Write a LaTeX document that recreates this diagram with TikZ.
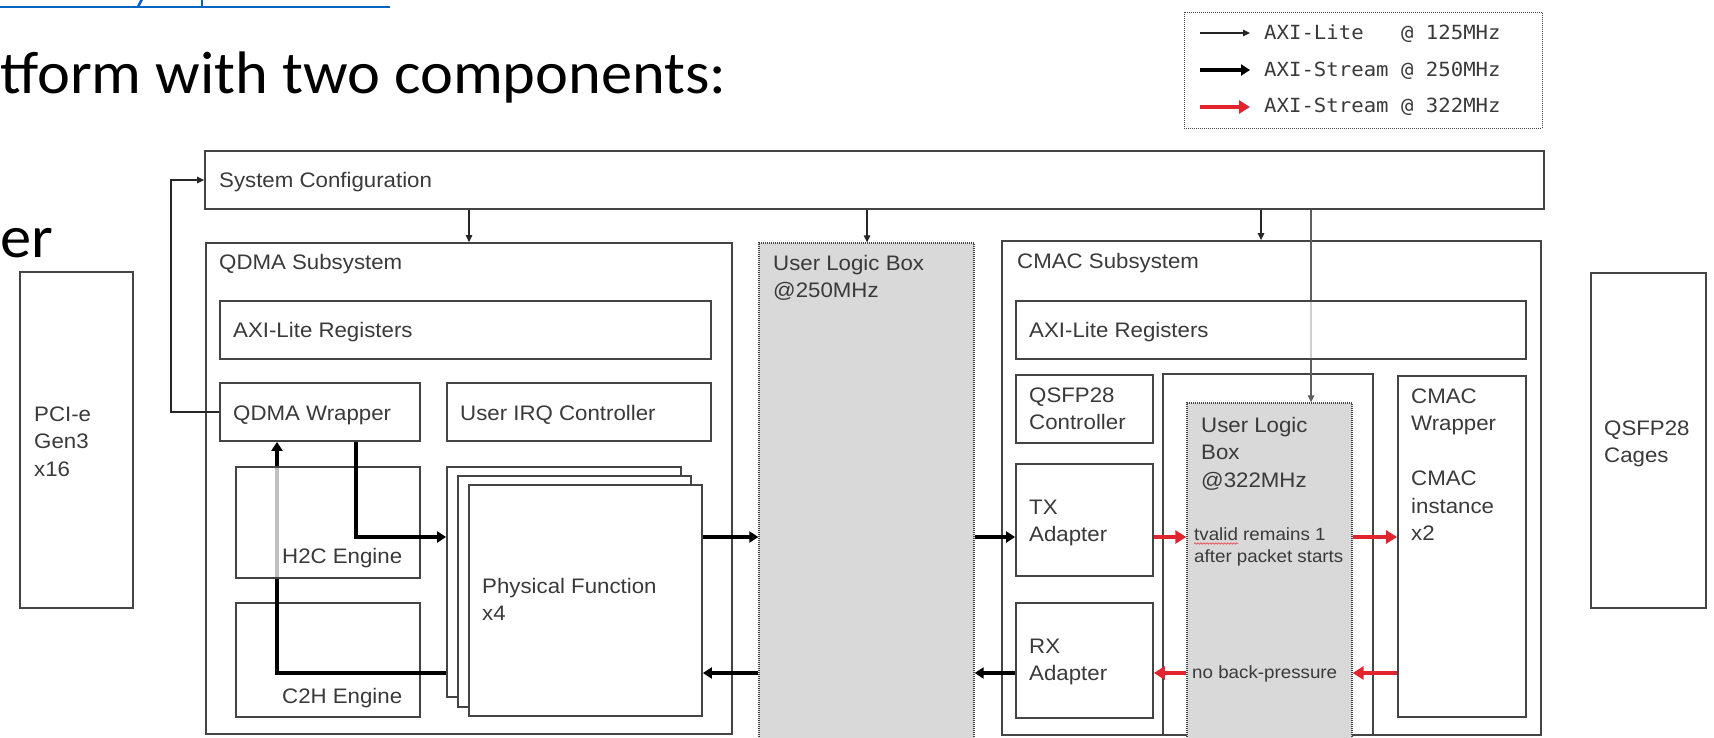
\documentclass[tikz,border=0pt]{standalone}
\usepackage{fontspec}
\setmainfont{Liberation Sans}
\newfontfamily\dgfont[FakeStretch=1.06]{Liberation Sans}
\newfontfamily\slidefont[FakeStretch=1.04]{Carlito}
\newfontfamily\legfont[FakeStretch=1.06]{DejaVu Sans Mono}
\usetikzlibrary{arrows.meta,fit,decorations.pathmorphing}

\definecolor{edge}{RGB}{68,68,68}
\definecolor{ink}{RGB}{58,58,58}
\definecolor{ulbfill}{RGB}{217,217,217}
\definecolor{axired}{RGB}{226,36,46}
\definecolor{linkblue}{RGB}{5,99,193}
\definecolor{tapgray}{RGB}{95,95,95}

% block drawn to fit two corner points
\newcommand\blk[3][box]{\node[#1, fit={#3}] (#2) {};}
% left-aligned label, anchored at the baseline of its first line
\newcommand\lbl[4][txt]{\node[#1] (#2) at (#3) {\begin{tabular}[t]{@{}l@{}}#4\end{tabular}};}

\begin{document}
\begin{tikzpicture}[x=1pt,y=-1pt,
  box/.style={draw=edge, line width=1.8pt, fill=white, inner sep=0pt},
  ulbox/.style={draw=edge, line width=1.3pt, dash pattern=on 1pt off 1pt, fill=ulbfill, inner sep=0pt},
  legbox/.style={draw=edge, line width=1pt, dash pattern=on 1pt off 1pt, inner sep=0pt},
  txt/.style={font=\dgfont\fontsize{21}{27.5}\selectfont, text=ink, inner sep=0pt, anchor=base west},
  note/.style={font=\dgfont\fontsize{17.7}{22}\selectfont, text=ink, inner sep=0pt, anchor=base west},
  legtxt/.style={font=\legfont\fontsize{19.5}{24}\selectfont, text=ink, inner sep=0pt, anchor=base west},
  slide/.style={font=\slidefont\fontsize{60}{72}\selectfont, text=black, inner sep=0pt, anchor=base west},
  lite/.style={draw=black!85, line width=1.3pt, -{Triangle[length=7pt,width=6.5pt]}},
  stream/.style={draw=black, line width=4.5pt, -{Triangle[length=9pt,width=11pt]}},
  fast/.style={draw=axired, line width=4.5pt, -{Triangle[length=11pt,width=13pt]}},
]
\useasboundingbox (0,0) rectangle (1714,737);
\fill[white] (0,0) rectangle (1714,737);
\clip (0,0) rectangle (1714,737);

% ---- slide text around the figure ----
\draw[linkblue, line width=2.6pt] (0,7) -- (390,7);
\draw[linkblue, line width=2.6pt] (138,7) -- (142,-1);
\draw[linkblue, line width=2.6pt] (202,7) -- (202,-1);
\node[slide] (title) at (0,93) {tform with two components:};
\node[slide] (frag) at (0,257) {er};

% ---- legend ----
\blk[legbox]{legend}{(1184,12) (1542,128)}
\coordinate (la1) at (1200,33);  \coordinate (lb1) at (1250,33);
\coordinate (la2) at (1200,70);  \coordinate (lb2) at (1250,70);
\coordinate (la3) at (1200,107); \coordinate (lb3) at (1250,107);
\draw[lite] (la1) -- (lb1);
\draw[stream] (la2) -- (lb2);
\draw[fast] (la3) -- (lb3);
\node[legtxt] (lg1) at (1264,39.5) {AXI-Lite\hphantom{xx} @ 125MHz};
\node[legtxt] (lg2) at (1264,76) {AXI-Stream @ 250MHz};
\node[legtxt] (lg3) at (1264,112.5) {AXI-Stream @ 322MHz};

% ---- outer blocks ----
\blk{sys}{(205,151) (1544,209)}
\blk{pcie}{(20,272) (133,608)}
\blk{cages}{(1591,273) (1706,608)}

% ---- QDMA subsystem ----
\blk{qdma}{(206,243) (732,734)}
\blk{qreg}{(220,301) (711,359)}
\blk{qwrap}{(220,383) (420,441)}
\blk{irq}{(447,383) (711,441)}
\blk{c2h}{(236,603) (420,717)}
\blk{pf3}{(447,467) (681,697)}
\blk{pf2}{(458,476) (691,707)}
\blk{pf1}{(469,485) (702,716)}

% ---- user logic at 250 MHz ----
\blk[ulbox]{ulb}{(759,243) (974,748)}

% ---- CMAC subsystem ----
\blk{cmac}{(1002,241) (1541,735)}
\blk{inner}{(1163,374) (1373,735)}
\blk[ulbox]{ulb2}{(1187,403) (1352,748)}
\blk{qsfpc}{(1016,375) (1153,443)}
\blk{tx}{(1016,464) (1153,576)}
\blk{rx}{(1016,603) (1153,718)}
\blk{cwrap}{(1398,376) (1526,717)}

% tap positions and stream rows
\coordinate (tapQ) at (469,0);
\coordinate (tapU) at (867,0);
\coordinate (tapC) at (1261,0);
\coordinate (tapL) at (1311,0);
\coordinate (xH) at (356,0);
\coordinate (xC) at (277,0);
\coordinate (rowT) at (0,537);
\coordinate (rowR) at (0,673);

% ---- AXI-Lite connections ----
\draw[lite] (sys.south -| tapQ) -- (qdma.north -| tapQ);
\draw[lite] (sys.south -| tapU) -- (ulb.north -| tapU);
\draw[lite] (sys.south -| tapC) -- (cmac.north -| tapC);
\draw[lite, draw=tapgray] (sys.south -| tapL) -- (ulb2.north -| tapL);
\draw[lite] (qwrap.west) -- ++(-48,0) |- (sys.west);
% register block laid over the tap line
\blk[box, fill opacity=0.7]{creg}{(1016,301) (1526,359)}

% ---- C2H path runs underneath the H2C engine ----
\draw[stream] (pf3.west |- rowR) -| (qwrap.south -| xC);
\blk[box, fill opacity=0.75]{h2c}{(236,467) (420,578)}
\draw[stream] (qwrap.south -| xH) |- (pf3.west |- rowT);

% ---- AXI-Stream at 250 MHz ----
\draw[stream] (pf1.east |- rowT) -- (ulb.west |- rowT);
\draw[stream] (ulb.west |- rowR) -- (pf1.east |- rowR);
\draw[stream] (ulb.east |- rowT) -- (tx.west |- rowT);
\draw[stream] (rx.west |- rowR) -- (ulb.east |- rowR);

% ---- AXI-Stream at 322 MHz ----
\draw[fast] (tx.east |- rowT) -- (ulb2.west |- rowT);
\draw[fast] (ulb2.east |- rowT) -- (cwrap.west |- rowT);
\draw[fast] (cwrap.west |- rowR) -- (ulb2.east |- rowR);
\draw[fast] (ulb2.west |- rowR) -- (rx.east |- rowR);

% ---- labels ----
\lbl{tSys}{219,187.5}{System Configuration}
\lbl{tPcie}{34,421}{PCI-e\\Gen3\\x16}
\lbl{tCages}{1604,435}{QSFP28\\Cages}
\lbl{tQdma}{219,269}{QDMA Subsystem}
\lbl{tQreg}{233,337.5}{AXI-Lite Registers}
\lbl{tQwrap}{233,420}{QDMA Wrapper}
\lbl{tIrq}{460,420}{User IRQ Controller}
\lbl{tH2c}{282,563}{H2C Engine}
\lbl{tC2h}{282,703}{C2H Engine}
\lbl{tPf}{482,593}{Physical Function\\x4}
\lbl{tUlb}{773,270}{User Logic Box\\@250MHz}
\lbl{tCmac}{1017,268}{CMAC Subsystem}
\lbl{tCreg}{1029,337.5}{AXI-Lite Registers}
\lbl{tQsfpc}{1029,402}{QSFP28\\Controller}
\lbl{tTx}{1029,514}{TX\\Adapter}
\lbl{tRx}{1029,653}{RX\\Adapter}
\lbl{tUlb2}{1201,432}{User Logic\\Box\\@322MHz}
\lbl{tCwrap}{1411,403}{CMAC\\Wrapper}
\lbl{tCinst}{1411,485.5}{CMAC\\instance\\x2}
\lbl[note]{tValid}{1194,540}{tvalid remains 1\\after packet starts}
\lbl[note]{tBack}{1192,678}{no back-pressure}
\draw[axired!75, line width=0.8pt, decorate,
      decoration={snake, amplitude=0.7pt, segment length=3pt}]
  ([yshift=-3.5pt]tValid.base west) -- ++(44,0);
\end{tikzpicture}
\end{document}
